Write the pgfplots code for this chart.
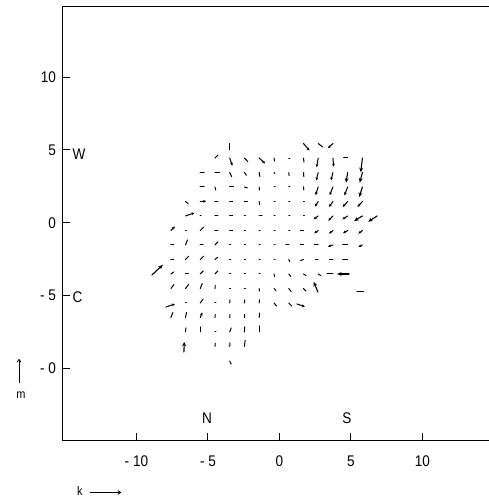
\documentclass[border=0pt]{standalone}
\usepackage{fontspec}
\setmainfont{Liberation Sans}[FakeStretch=0.88]
\usepackage{pgfplots}
\usepackage{pgfplotstable}
\pgfplotsset{compat=1.18}
\usetikzlibrary{arrows.meta}

% vectors: x y = tail position (data units), u v = vector (pixels of the reference)
\pgfplotstableread{
x y u v
-3.48 5.44 0 -6
2.71 5.44 4.5 -3.5
-4.51 4.44 3 3
-2.45 4.44 3.3 -3.3
-0.38 4.44 0.5 -3
0.65 4.44 1 0
1.68 4.44 0.5 -4
4.77 4.50 -4 0
-5.54 3.45 4 0
-4.51 3.45 5 0
-3.48 3.45 2 -4
-2.45 3.45 2 -2.7
-1.42 3.45 0.7 -4
-0.38 3.45 1 -1
0.65 3.45 0.3 -3
1.68 3.45 0.3 -4
-5.54 2.46 4 0
-4.51 2.46 0.7 -3
-3.48 2.46 4 0
-2.45 2.46 3 -1
-1.42 2.46 0.3 -3
-0.38 2.46 1 0
0.65 2.46 1 0
1.68 2.46 0.3 -3
-6.57 1.46 2.5 -2
-4.51 1.46 3 0
-3.48 1.46 3 0
-2.45 1.46 3 0
-1.42 1.46 0.3 -3
-0.38 1.46 1 0
0.65 1.46 1 0
1.68 1.46 1 0
-5.54 0.47 1 0
-4.51 0.47 3 0
-3.48 0.47 3 0
-2.45 0.47 1 0
-1.42 0.47 3 0
-0.38 0.47 1 0
0.65 0.47 1 0
1.68 0.47 1 0
-6.57 -0.53 1 0
-5.54 -0.53 3.3 3.3
-4.51 -0.53 3 0
-3.48 -0.53 3 0
-2.45 -0.53 1 0
-1.42 -0.53 1 0
-0.38 -0.53 1 0
0.65 -0.53 1 0
1.68 -0.53 -3 0
-7.59 -1.52 3 0
-6.57 -1.52 2 5
-5.54 -1.52 3 0
-4.51 -1.52 3 3
-3.48 -1.52 1 0
-2.45 -1.52 1 0
-1.42 -1.52 1 0
-0.38 -1.52 1 0
0.65 -1.52 -3 0
1.68 -1.52 -3.5 0
2.71 -1.52 -4 0
4.77 -1.52 -5 0
-7.59 -2.52 3 0
-6.57 -2.52 3.3 3.3
-5.54 -2.52 3.3 3.3
-4.51 -2.52 2.5 2
-3.48 -2.52 1 0
-2.45 -2.52 1 0
-1.42 -2.52 1 0
-0.38 -2.52 1 0
0.65 -2.52 1 -2
1.68 -2.52 -3 -1
2.71 -2.52 -3 0
3.74 -2.52 -3.5 0
4.77 -2.52 -5 0
-7.59 -3.51 3 2
-6.57 -3.51 3 0
-5.54 -3.51 3 3
-4.51 -3.51 3 3
-3.48 -3.51 1 0
-2.45 -3.51 1 0
-1.42 -3.51 1 0
-0.38 -3.51 0.5 -2.5
0.65 -3.51 2 -2.5
1.68 -3.51 2.5 -1.5
2.71 -3.51 2.5 -1.5
3.74 -3.51 -6 0
-7.59 -4.51 3 4
-6.57 -4.51 3 4
-5.54 -4.51 2 5
-4.51 -4.51 0.3 3
-3.48 -4.51 1 0
-2.45 -4.51 1 0
-1.42 -4.51 0.3 -2.5
-0.38 -4.51 2 -2
0.65 -4.51 2.5 -3
1.68 -4.51 2.5 -2.5
5.42 -4.73 7 0
-6.57 -5.50 1 0
-5.54 -5.50 3 4
-4.51 -5.50 1 0
-3.48 -5.50 0.3 3
-2.45 -5.50 0.3 3
-1.42 -5.50 0.3 3
-0.38 -5.50 2.5 -3
0.65 -5.50 3 -3
-7.59 -6.50 2 5
-6.57 -6.50 1 5
-4.51 -6.50 0.3 3
-3.48 -6.50 0.3 3
-2.45 -6.50 0.3 3
-1.42 -6.50 0.5 4.5
-6.57 -7.49 0.5 4
-5.54 -7.49 0 5
-4.51 -7.49 1 0
-3.48 -7.49 1.5 4
-2.45 -7.49 0.3 5
-1.42 -7.49 0 6
-4.51 -8.48 0.3 3
-3.48 -8.48 0.3 3.5
-2.45 -8.48 0.7 6
-3.48 -9.48 1.5 -3
}\plainvec

\pgfplotstableread{
x y u v
1.68 5.44 6 -7
3.74 5.44 -5 -4.5
-3.48 4.44 2.7 -7.5
-1.42 4.44 6 -5.3
2.71 4.44 -1.7 -9
3.74 4.44 0.7 -8.5
2.71 3.45 -2 -7.7
3.74 3.45 -2 -7.7
2.71 2.46 -2.7 -8
3.74 2.46 -3.3 -8
4.77 2.46 -3.3 -8.3
-5.54 1.46 6 0.3
2.71 1.46 -3.3 -5
3.74 1.46 -4 -5.3
4.77 1.46 -5 -5.3
5.80 1.46 -5 -5.3
-6.57 0.47 9 3
2.71 0.47 -4.7 -3.3
3.74 0.47 -4.7 -4.7
4.77 0.47 -5.3 -3.3
-7.59 -0.53 4 4
2.71 -0.53 -4 -2.7
3.74 -0.53 -4 -3
4.77 -0.53 -4.7 -2.7
5.80 -0.53 -4 -3
3.74 -1.52 -5 -1.7
5.80 -1.52 -4 -2
-7.94 -5.78 9 3
1.22 -5.57 8 -2.5
-5.54 -6.50 2 5
}\medvec

\pgfplotstableread{
x y u v
5.80 4.44 -1.7 -14
4.77 3.45 -1.7 -10
5.80 3.45 -2.7 -10
5.80 2.46 -3.3 -10
5.80 0.47 -8.3 -5
6.83 0.47 -9 -5.7
-8.92 -3.58 11 10
4.86 -3.51 -12 0
2.69 -4.75 -4.3 10
-6.68 -8.86 0.3 10
}\bigvec

\begin{document}
\begin{tikzpicture}
\useasboundingbox (0,0) rectangle (489bp,502bp);
\begin{axis}[
  at={(62.5bp,62bp)}, anchor=south west,
  scale only axis, width=426.5bp, height=433.5bp,
  xmin=-15.17, xmax=14.65, ymin=-14.90, ymax=14.84,
  axis line style={draw=none},
  tick align=inside, major tick length=7bp,
  major tick style={draw=black, line width=1bp},
  xtick pos=bottom, ytick pos=left,
  xtick={-10,-5,0,5,10}, xticklabels={- 10,- 5,0,5,10},
  ytick={-10,-5,0,5,10}, yticklabels={- 0,- 5,0,5,10},
  ticklabel style={font=\fontsize{15.5}{18}\selectfont},
  xticklabel style={yshift=-12bp},
  yticklabel style={xshift=-3bp},
  clip=false,
]
\draw[line width=1bp, line cap=rect] (rel axis cs:1,1) -- (rel axis cs:0,1) -- (rel axis cs:0,0) -- (rel axis cs:1,0);
\addplot[black, line width=1bp, line cap=round,
  quiver={u=\thisrow{u}, v=\thisrow{v}, scale arrows=0.0695}] table[x=x,y=y] {\plainvec};
\addplot[black, line width=1bp, line cap=round, -{Stealth[length=3bp,width=2.8bp]},
  quiver={u=\thisrow{u}, v=\thisrow{v}, scale arrows=0.0695}] table[x=x,y=y] {\medvec};
\addplot[black, line width=1.1bp, line cap=round, -{Stealth[length=4.5bp,width=3.8bp]},
  quiver={u=\thisrow{u}, v=\thisrow{v}, scale arrows=0.0695}] table[x=x,y=y] {\bigvec};
\end{axis}
\begin{scope}[every node/.style={font=\fontsize{15.5}{18}\selectfont, inner sep=0pt}]
\node at (79bp,348bp) {W};
\node at (77.5bp,205bp) {C};
\node at (207bp,84bp) {N};
\node at (347bp,84bp) {S};
\end{scope}
\node[font=\fontsize{12.5}{14}\selectfont, inner sep=0pt, anchor=base west] at (77bp,7bp) {k};
\draw[line width=0.8bp, -{To[length=3.5bp,width=4.5bp]}] (90bp,9.5bp) -- (121bp,9.5bp);
\draw[line width=0.8bp, -{To[length=3.5bp,width=4.5bp]}] (19bp,119bp) -- (19bp,143bp);
\node[font=\fontsize{12.5}{14}\selectfont, inner sep=0pt, anchor=base] at (21bp,103bp) {m};
\end{tikzpicture}
\end{document}
